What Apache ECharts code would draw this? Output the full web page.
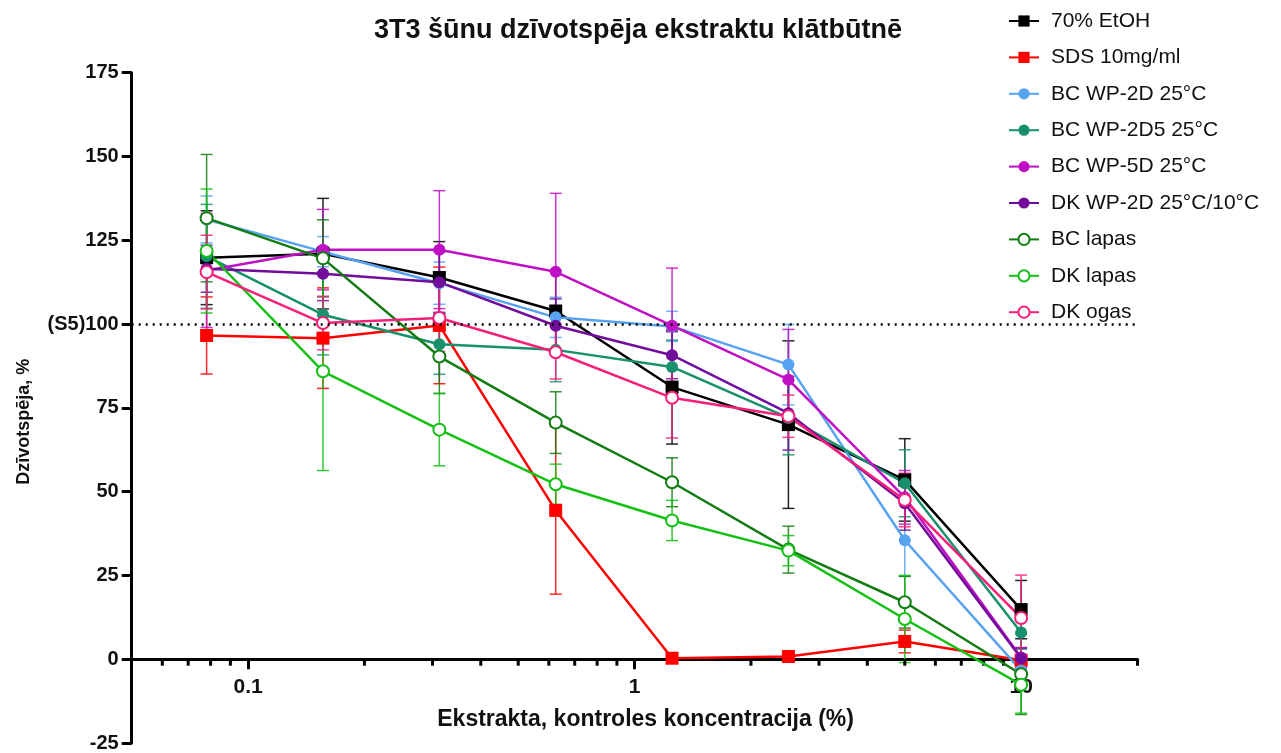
<!DOCTYPE html>
<html>
<head>
<meta charset="utf-8">
<script src="https://cdn.jsdelivr.net/npm/echarts@6/dist/echarts.min.js"></script>
<style>
  html, body { margin: 0; padding: 0; background: #ffffff; }
  #chart { width: 1281px; height: 753px; }
</style>
</head>
<body>
<div id="chart"></div>
<script>
// Extract concentrations (%), two-fold dilution series
const concentrations = [0.078125, 0.15625, 0.3125, 0.625, 1.25, 2.5, 5, 10];

// Viability (%) means and standard deviations per treatment
const etohMean     = [119.8, 121.0, 113.9, 103.9, 81.2, 70.0, 53.5, 14.8];
const etohSd       = [14, 16.5, 10.7, 12, 17, 25, 12.3, 8.7];
const sdsMean      = [96.6, 95.8, 99.6, 44.4, 0.3, 0.8, 5.3, -0.3];
const sdsSd        = [11.5, 15, 17.4, 25, 0.8, 0.8, 3.4, 0.8];
const bcWp2dMean   = [131.2, 121.6, 112.2, 102.0, 99.3, 87.9, 35.5, -3.4];
const bcWp2dSd     = [7, 4.5, 6.3, 6, 4.5, 12, 10.7, 2];
const bcWp2d5Mean  = [120.2, 102.8, 94.0, 92.3, 87.2, 72.0, 52.5, 8.0];
const bcWp2d5Sd    = [15.5, 12, 9, 9.5, 8, 11, 10, 5];
const bcWp5dMean   = [116.0, 122.2, 122.2, 115.6, 99.5, 83.4, 48.3, 0.5];
const bcWp5dSd     = [17, 12, 17.6, 23.4, 17.2, 15, 8, 3];
const dkWp2dMean   = [116.5, 115.0, 112.5, 99.5, 90.7, 73.4, 46.5, 0.3];
const dkWp2dSd     = [7, 8, 9, 8, 7, 11, 8, 3];
const bcLapasMean  = [131.6, 119.6, 90.3, 70.6, 52.8, 32.7, 17.0, -4.5];
const bcLapasSd    = [19, 11.5, 11, 9.2, 7.3, 7, 7.7, 12];
const dkLapasMean  = [121.8, 85.9, 68.5, 52.2, 41.4, 32.4, 12.0, -7.6];
const dkLapasSd    = [18.5, 29.6, 10.8, 6, 6, 4.5, 13, 8.5];
const dkOgasMean   = [115.5, 100.3, 101.8, 91.6, 78.0, 72.5, 47.5, 12.3];
const dkOgasSd     = [11, 8, 10, 8, 12, 6.3, 8, 12.8];

const seriesNames = ['70% EtOH', 'SDS 10mg/ml', 'BC WP-2D 25°C', 'BC WP-2D5 25°C',
  'BC WP-5D 25°C', 'DK WP-2D 25°C/10°C', 'BC lapas', 'DK lapas', 'DK ogas'];

// Axis ranges, tick labels and the S5 reference level
const yTicks = { min: -25, max: 175, step: 25 };
const xRange = { min: 0.05, max: 20 };
const xMajorTicks = [0.1, 1, 10];
const xMinorTicks = [0.06, 0.07, 0.08, 0.09, 0.2, 0.3, 0.4, 0.5, 0.6, 0.7, 0.8, 0.9,
  2, 3, 4, 5, 6, 7, 8, 9, 20];
const referenceLevel = 100;

const groups = [
  { mean: etohMean,    sd: etohSd,    color: '#000000', symbol: 'rect' },
  { mean: sdsMean,     sd: sdsSd,     color: '#ff0000', symbol: 'rect' },
  { mean: bcWp2dMean,  sd: bcWp2dSd,  color: '#58a2f2', symbol: 'circle' },
  { mean: bcWp2d5Mean, sd: bcWp2d5Sd, color: '#17906c', symbol: 'circle' },
  { mean: bcWp5dMean,  sd: bcWp5dSd,  color: '#c010c4', symbol: 'circle' },
  { mean: dkWp2dMean,  sd: dkWp2dSd,  color: '#720c9c', symbol: 'circle' },
  { mean: bcLapasMean, sd: bcLapasSd, color: '#137d13', symbol: 'emptyCircle' },
  { mean: dkLapasMean, sd: dkLapasSd, color: '#14c014', symbol: 'emptyCircle' },
  { mean: dkOgasMean,  sd: dkOgasSd,  color: '#f5207a', symbol: 'emptyCircle' }
];

const chart = echarts.init(document.getElementById('chart'), null, { renderer: 'canvas' });

const lineSeries = groups.map((g, i) => ({
  name: seriesNames[i],
  type: 'line',
  z: 3,
  data: concentrations.map((c, k) => [c, g.mean[k]]),
  symbol: g.symbol,
  symbolSize: g.symbol === 'rect' ? 13 : 12,
  showAllSymbol: true,
  color: g.color,
  lineStyle: { color: g.color, width: 2.5 },
  itemStyle: { color: g.color, borderWidth: g.symbol === 'emptyCircle' ? 2.2 : 0 },
  emphasis: { disabled: true },
  animation: false,
  markLine: i === 0 ? {
    silent: true,
    symbol: 'none',
    label: { show: false },
    lineStyle: { color: '#000000', width: 2.5, type: [2, 5] },
    data: [{ yAxis: referenceLevel }]
  } : undefined
}));

// Error bars: vertical whisker with caps, mean ± SD
const errorSeries = groups.map((g, i) => ({
  name: 'sd-' + i,
  type: 'custom',
  z: 1,
  silent: true,
  animation: false,
  data: concentrations.map((c, k) => [c, g.mean[k] - g.sd[k], g.mean[k] + g.sd[k]]),
  renderItem: function (params, api) {
    const lo = api.coord([api.value(0), api.value(1)]);
    const hi = api.coord([api.value(0), api.value(2)]);
    const hw = 6;
    const style = { stroke: g.color, lineWidth: 1.5, opacity: 0.85 };
    return {
      type: 'group',
      children: [
        { type: 'line', shape: { x1: lo[0], y1: lo[1], x2: hi[0], y2: hi[1] }, style: style },
        { type: 'line', shape: { x1: lo[0] - hw, y1: lo[1], x2: lo[0] + hw, y2: lo[1] }, style: style },
        { type: 'line', shape: { x1: hi[0] - hw, y1: hi[1], x2: hi[0] + hw, y2: hi[1] }, style: style }
      ]
    };
  }
}));

// Short minor ticks of the logarithmic axis, hanging below the zero line
const minorTickSeries = {
  name: 'minor-ticks',
  type: 'custom',
  z: 1,
  silent: true,
  animation: false,
  data: xMinorTicks.map(v => [v, 0]),
  renderItem: function (params, api) {
    const p = api.coord([api.value(0), api.value(1)]);
    return {
      type: 'line',
      shape: { x1: p[0], y1: p[1], x2: p[0], y2: p[1] + 6.5 },
      style: { stroke: '#000000', lineWidth: 3 }
    };
  }
};

const mainFont = 'Liberation Sans, Arial, sans-serif';

chart.setOption({
  animation: false,
  backgroundColor: '#ffffff',
  title: {
    text: '3T3 šūnu dzīvotspēja ekstraktu klātbūtnē',
    left: 633,
    top: 12,
    textAlign: 'center',
    textStyle: { fontFamily: mainFont, fontWeight: 'bold', fontSize: 27, color: '#111111' }
  },
  legend: {
    orient: 'vertical',
    left: 1003,
    top: 5,
    itemWidth: 30,
    itemHeight: 14,
    itemGap: 14.4,
    data: seriesNames,
    selectedMode: false,
    textStyle: { fontFamily: mainFont, fontSize: 21, color: '#111111', lineHeight: 22, padding: [0, 0, 0, 7] }
  },
  grid: {
    left: 131.7, right: 143.5, top: 72.7, bottom: 10, containLabel: false,
    outerBounds: { left: -300, right: -300, top: -300, bottom: -300 }
  },
  xAxis: {
    type: 'log',
    logBase: 10,
    min: xRange.min,
    max: xRange.max,
    name: 'Ekstrakta, kontroles koncentracija (%)',
    nameLocation: 'middle',
    nameGap: -34.5,
    nameTextStyle: { fontFamily: mainFont, fontWeight: 'bold', fontSize: 23, color: '#111111', padding: [0, 0, 0, 22] },
    axisLine: { onZero: true, lineStyle: { color: '#000000', width: 3 } },
    axisTick: { show: true, length: 10, lineStyle: { color: '#000000', width: 3 }, customValues: xMajorTicks },
    axisLabel: {
      show: true,
      customValues: xMajorTicks,
      margin: -66,
      fontFamily: mainFont, fontWeight: 'bold', fontSize: 21, color: '#111111',
      formatter: v => String(+Number(v).toPrecision(6))
    },
    splitLine: { show: false }
  },
  yAxis: {
    type: 'value',
    min: yTicks.min,
    max: yTicks.max,
    interval: yTicks.step,
    name: 'Dzīvotspēja, %',
    nameLocation: 'middle',
    nameGap: 99,
    nameTextStyle: { fontFamily: mainFont, fontWeight: 'bold', fontSize: 18, color: '#111111', padding: [0, 28, 0, 0] },
    axisLine: { show: true, onZero: false, lineStyle: { color: '#000000', width: 3 } },
    axisTick: { show: true, length: 10, lineStyle: { color: '#000000', width: 3 } },
    axisLabel: {
      margin: 13,
      fontFamily: mainFont, fontWeight: 'bold', fontSize: 20, color: '#111111',
      formatter: v => (v === referenceLevel ? '(S5)' + v : String(v))
    },
    splitLine: { show: false }
  },
  series: lineSeries.concat(errorSeries, [minorTickSeries])
});
</script>
</body>
</html>
